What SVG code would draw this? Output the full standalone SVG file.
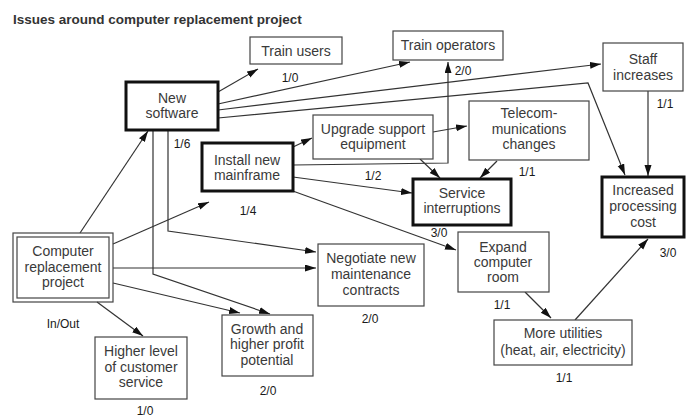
<svg xmlns="http://www.w3.org/2000/svg" width="686" height="417" viewBox="0 0 686 417">
  <style>
    .box { fill: #fff; stroke: #444; stroke-width: 1.2; }
    .thick { fill: #fff; stroke: #111; stroke-width: 3; }
    .dbl { fill: none; stroke: #444; stroke-width: 1.2; }
    .t { font-family: "Liberation Sans", Arial, sans-serif; font-size: 14px; fill: #3a3a3a; text-anchor: middle; }
    .n { font-family: "Liberation Sans", Arial, sans-serif; font-size: 12px; fill: #1a1a1a; text-anchor: middle; }
    .title { font-family: "Liberation Sans", Arial, sans-serif; font-size: 13.5px; font-weight: bold; fill: #333; }
    .c { fill: none; stroke: #333; stroke-width: 1.2; marker-end: url(#ah); }
  </style>
  <defs>
    <marker id="ah" markerUnits="userSpaceOnUse" markerWidth="12" markerHeight="8" refX="11" refY="3.5" orient="auto">
      <path d="M0,0 L11,3.5 L0,7 Z" fill="#111"/>
    </marker>
  </defs>
  <rect width="686" height="417" fill="#fff"/>

  <text class="title" x="13" y="24">Issues around computer replacement project</text>

  <!-- connectors -->
  <g id="connectors">
    <path class="c" d="M218,92 L258,69"/>
    <path class="c" d="M218,104 L410,62"/>
    <path class="c" d="M218,110 L601,64"/>
    <path class="c" d="M218,118 L588,83 L625,175"/>
    <path class="c" d="M168,130 L168,231 L316,252"/>
    <path class="c" d="M153,130 L153,274 L270,314"/>
    <path class="c" d="M80,233 L148,131"/>
    <path class="c" d="M113,244 L209,202"/>
    <path class="c" d="M113,268 L316,268"/>
    <path class="c" d="M113,283 L240,313"/>
    <path class="c" d="M97,302 L143,336"/>
    <path class="c" d="M293,147 L312,138"/>
    <path class="c" d="M293,165 L448,163 L448,62"/>
    <path class="c" d="M293,177 L412,193"/>
    <path class="c" d="M290,190 L456,250"/>
    <path class="c" d="M433,132 L467,126"/>
    <path class="c" d="M420,159 L440,178"/>
    <path class="c" d="M497,161 L480,178"/>
    <path class="c" d="M648,91 L648,176"/>
    <path class="c" d="M525,292 L551,318"/>
    <path class="c" d="M575,320 L648,239"/>
  </g>

  <!-- nodes -->
  <g id="train-users">
    <rect class="box" x="250" y="37" width="92" height="27"/>
    <text class="t" x="296" y="56">Train users</text>
    <text class="n" x="290" y="82">1/0</text>
  </g>
  <g id="new-software">
    <rect class="thick" x="126" y="82" width="92" height="48"/>
    <text class="t" x="172" y="103">New</text>
    <text class="t" x="172" y="118">software</text>
    <text class="n" x="182" y="148">1/6</text>
  </g>
  <g id="train-operators">
    <rect class="box" x="393" y="31" width="110" height="29"/>
    <text class="t" x="448" y="50">Train operators</text>
    <text class="n" x="463" y="75">2/0</text>
  </g>
  <g id="staff-increases">
    <rect class="box" x="603" y="43" width="80" height="48"/>
    <text class="t" x="643" y="64">Staff</text>
    <text class="t" x="643" y="80">increases</text>
    <text class="n" x="665" y="108">1/1</text>
  </g>
  <g id="upgrade-support">
    <rect class="box" x="313" y="115" width="120" height="44"/>
    <text class="t" x="373" y="134">Upgrade support</text>
    <text class="t" x="373" y="149">equipment</text>
    <text class="n" x="373" y="180">1/2</text>
  </g>
  <g id="telecom">
    <rect class="box" x="469" y="101" width="120" height="59"/>
    <text class="t" x="529" y="118">Telecom-</text>
    <text class="t" x="529" y="134">munications</text>
    <text class="t" x="529" y="149">changes</text>
    <text class="n" x="527" y="176">1/1</text>
  </g>
  <g id="install-mainframe">
    <rect class="thick" x="202" y="143" width="91" height="48"/>
    <text class="t" x="247" y="165">Install new</text>
    <text class="t" x="247" y="180">mainframe</text>
    <text class="n" x="248" y="215">1/4</text>
  </g>
  <g id="service-interruptions">
    <rect class="thick" x="413" y="179" width="98" height="46"/>
    <text class="t" x="462" y="198">Service</text>
    <text class="t" x="462" y="213">interruptions</text>
    <text class="n" x="439" y="237">3/0</text>
  </g>
  <g id="increased-cost">
    <rect class="thick" x="602" y="177" width="82" height="60"/>
    <text class="t" x="643" y="195">Increased</text>
    <text class="t" x="643" y="211">processing</text>
    <text class="t" x="643" y="227">cost</text>
    <text class="n" x="668" y="257">3/0</text>
  </g>
  <g id="computer-replacement">
    <rect class="dbl" x="13" y="233" width="100" height="69" fill="#fff"/>
    <rect class="dbl" x="17" y="237" width="92" height="61"/>
    <text class="t" x="63" y="256">Computer</text>
    <text class="t" x="63" y="272">replacement</text>
    <text class="t" x="63" y="287">project</text>
    <text class="n" x="63" y="328">In/Out</text>
  </g>
  <g id="negotiate-contracts">
    <rect class="box" x="318" y="244" width="106" height="62"/>
    <text class="t" x="371" y="263">Negotiate new</text>
    <text class="t" x="371" y="279">maintenance</text>
    <text class="t" x="371" y="295">contracts</text>
    <text class="n" x="370" y="323">2/0</text>
  </g>
  <g id="expand-room">
    <rect class="box" x="458" y="232" width="91" height="60"/>
    <text class="t" x="503" y="252">Expand</text>
    <text class="t" x="503" y="267">computer</text>
    <text class="t" x="503" y="282">room</text>
    <text class="n" x="502" y="309">1/1</text>
  </g>
  <g id="more-utilities">
    <rect class="box" x="494" y="320" width="138" height="45"/>
    <text class="t" x="563" y="338">More utilities</text>
    <text class="t" x="563" y="355">(heat, air, electricity)</text>
    <text class="n" x="564" y="382">1/1</text>
  </g>
  <g id="growth-profit">
    <rect class="box" x="222" y="315" width="91" height="61"/>
    <text class="t" x="267" y="334">Growth and</text>
    <text class="t" x="267" y="349">higher profit</text>
    <text class="t" x="267" y="365">potential</text>
    <text class="n" x="268" y="395">2/0</text>
  </g>
  <g id="customer-service">
    <rect class="box" x="95" y="337" width="92" height="62"/>
    <text class="t" x="141" y="356">Higher level</text>
    <text class="t" x="141" y="372">of customer</text>
    <text class="t" x="141" y="387">service</text>
    <text class="n" x="145" y="415">1/0</text>
  </g>
</svg>
